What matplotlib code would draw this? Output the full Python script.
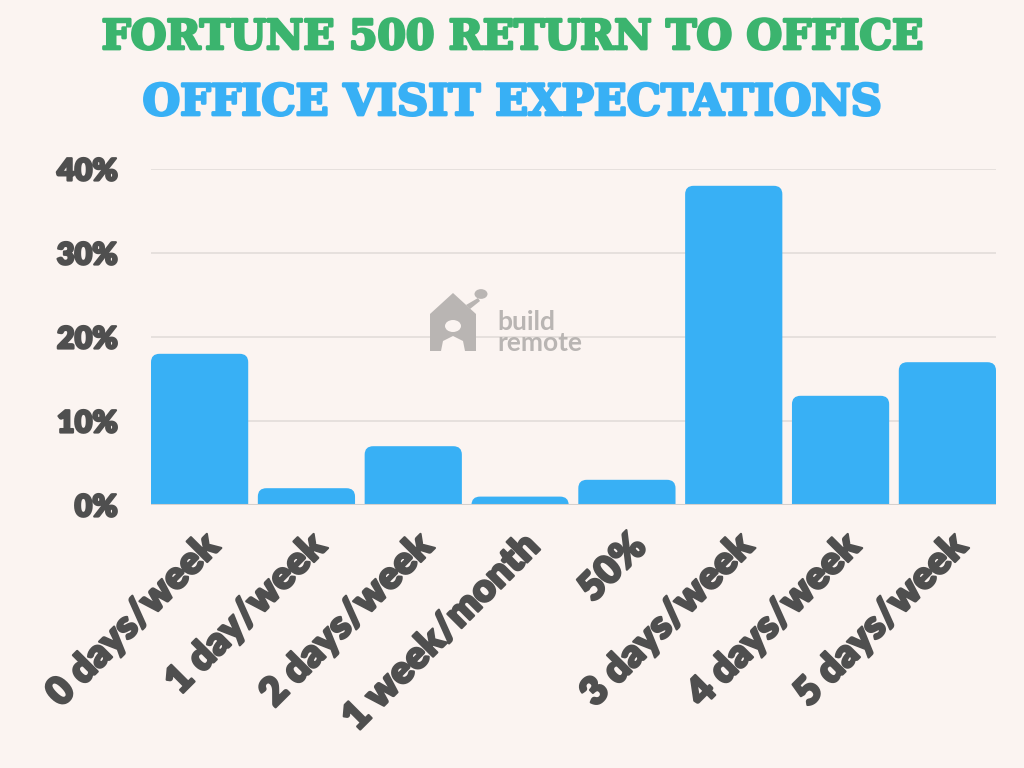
import matplotlib
matplotlib.use("Agg")
import matplotlib.pyplot as plt
from matplotlib.patches import FancyBboxPatch, Polygon, Circle
import matplotlib.patheffects as pe

categories = ["0 days/week", "1 day/week", "2 days/week", "1 week/month",
              "50%", "3 days/week", "4 days/week", "5 days/week"]
values = [18, 2, 7, 1, 3, 38, 13, 17]
yticks = [0, 10, 20, 30, 40]
ytick_labels = ["0%", "10%", "20%", "30%", "40%"]
title_top = "FORTUNE 500 RETURN TO OFFICE"
title_bottom = "OFFICE VISIT EXPECTATIONS"

BG = "#FBF4F1"
BLUE = "#38B0F5"
GREEN = "#3BB46E"
DARK = "#4F4F4F"
GRID = "#E2DDDA"
SANS = ["Lato", "DejaVu Sans"]

fig = plt.figure(figsize=(10.24, 7.68), dpi=100, facecolor=BG)
ax = fig.add_axes([151 / 1024, 1 - 505 / 768, 845 / 1024, 336 / 768])
ax.set_facecolor(BG)

width = 0.91
x = list(range(len(categories)))
bars = ax.bar(x, values, width=width, color=BLUE)
# swap plain bars for ones with rounded tops (bottom corners hidden below 0)
for b in bars:
    b.set_visible(False)
    p = FancyBboxPatch((b.get_x(), b.get_y() - 2), b.get_width(), b.get_height() + 2,
                       boxstyle="round,pad=0,rounding_size=0.08",
                       mutation_aspect=12.5, fc=BLUE, ec="none", zorder=3)
    ax.add_patch(p)

ax.set_xlim(-width / 2, len(categories) - 1 + width / 2)
ax.set_ylim(0, 40)
ax.set_yticks(yticks)
ax.set_yticklabels(ytick_labels)
ax.set_xticks(x)
ax.set_xticklabels(categories, rotation=45, ha="right", va="top", rotation_mode="anchor")
for s in ax.spines.values():
    s.set_visible(False)
ax.grid(axis="y", color=GRID, linewidth=1.2, zorder=0)
ax.set_axisbelow(True)
ax.axhline(0, color="#D5D0CD", linewidth=1.5, zorder=4)
ax.tick_params(length=0, labelcolor=DARK)
ax.tick_params(axis="y", pad=24)
ax.tick_params(axis="x", pad=16)

thick = [pe.withStroke(linewidth=1.6, foreground=DARK)]
for lab in ax.get_yticklabels():
    lab.set_fontfamily(SANS)
    lab.set_fontweight("heavy")
    lab.set_fontsize(22)
    lab.set_path_effects(thick)
for lab in ax.get_xticklabels():
    lab.set_fontfamily(SANS)
    lab.set_fontweight("heavy")
    lab.set_fontsize(28)
    lab.set_path_effects(thick)

fig.text(0.5, 1 - 38 / 768, title_top, ha="center", va="center", color=GREEN,
         fontsize=29.5, fontweight="bold", family=["DejaVu Serif"],
         path_effects=[pe.withStroke(linewidth=2, foreground=GREEN)])
fig.text(0.5, 1 - 103 / 768, title_bottom, ha="center", va="center", color=BLUE,
         fontsize=31, fontweight="bold", family=["DejaVu Serif"],
         path_effects=[pe.withStroke(linewidth=2, foreground=BLUE)])

# watermark
WM = "#B9B5B3"
tf = fig.transFigure
def fp(px, py):
    return (px / 1024, 1 - py / 768)
house = Polygon([fp(430, 351), fp(430, 314), fp(453, 293), fp(476, 314), fp(476, 351)],
                closed=True, fc=WM, ec="none", transform=tf)
fig.patches.append(house)
fig.patches.append(Circle(fp(453, 326), 8 / 1024, fc=BG, ec="none", transform=tf))
fig.patches.append(Polygon([fp(441, 351), fp(443, 341), fp(453, 336), fp(463, 341), fp(465, 351)],
                           closed=True, fc=BG, ec="none", transform=tf))
fig.patches.append(Circle(fp(481, 294), 6.5 / 1024, fc=WM, ec="none", transform=tf))
fig.patches.append(Polygon([fp(466, 305), fp(478, 298), fp(480, 301), fp(470, 309)],
                           closed=True, fc=WM, ec="none", transform=tf))
fig.text(fp(497, 0)[0], fp(0, 332)[1], "build\nremote", color=WM, fontsize=19,
         fontweight="bold", family=SANS, ha="left", va="center", linespacing=0.85)

fig.savefig("out.png", dpi=100, facecolor=BG)
